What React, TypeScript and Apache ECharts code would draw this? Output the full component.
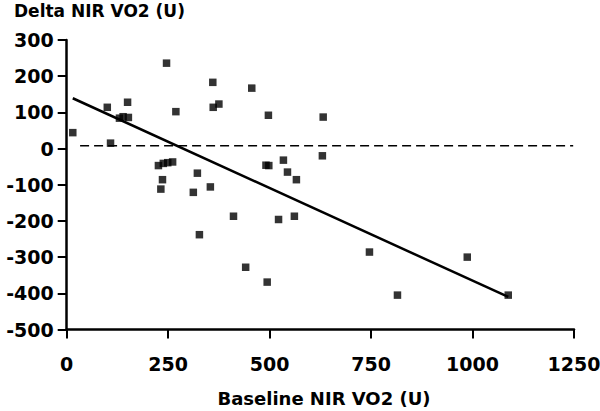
import React, { useEffect, useRef } from "react";
import * as echarts from "echarts";

const baselineX: number[] = [
  15, 100, 108, 130, 139, 150, 152, 246, 269, 360, 361, 375, 456, 497, 632,
  226, 238, 249, 261, 236, 232, 322, 312, 354, 491, 498, 534, 544, 566, 630,
  411, 522, 561, 327, 441, 494, 746, 815, 987, 1088,
];
const deltaY: number[] = [
  44, 114, 15, 84, 88, 128, 86, 236, 102, 183, 114, 123, 167, 92, 87,
  -47, -41, -39, -37, -86, -112, -68, -121, -106, -46, -47, -32, -65, -86, -20,
  -187, -196, -187, -238, -328, -369, -286, -405, -300, -405,
];
const fitX: number[] = [15, 1088];
const fitY: number[] = [139, -410];
const refX: number[] = [33, 1248];
const refY: number[] = [8, 8];
const xTicks = { min: 0, max: 1250, interval: 250 };
const yTicks = { min: -500, max: 300, interval: 100 };
const yTitle = "Delta NIR VO2 (U)";
const xTitle = "Baseline NIR VO2 (U)";

const FONT = "'DejaVu Sans', sans-serif";

export default function App() {
  const ref = useRef<HTMLDivElement>(null);
  useEffect(() => {
    if (!ref.current) return;
    const chart = echarts.init(ref.current, null, { renderer: "svg" });
    const points = baselineX.map((x, i) => [x, deltaY[i]]);
    chart.setOption({
      animation: false,
      backgroundColor: "#ffffff",
      grid: {
        left: 66.7,
        right: 26,
        top: 40,
        bottom: 81.5,
        containLabel: false,
        outerBoundsMode: "none",
      },
      xAxis: {
        type: "value",
        min: xTicks.min,
        max: xTicks.max,
        interval: xTicks.interval,
        splitLine: { show: false },
        axisLine: { show: true, onZero: false, lineStyle: { color: "#000", width: 2.5 } },
        axisTick: { show: true, length: 9, lineStyle: { color: "#000", width: 2 } },
        axisLabel: {
          margin: 25,
          color: "#000",
          fontFamily: FONT,
          fontWeight: "bold",
          fontSize: 19,
          formatter: (v: number) => String(v),
        },
      },
      yAxis: {
        type: "value",
        min: yTicks.min,
        max: yTicks.max,
        interval: yTicks.interval,
        splitLine: { show: false },
        axisLine: { show: true, onZero: false, lineStyle: { color: "#000", width: 2.5 } },
        axisTick: { show: true, length: 9, lineStyle: { color: "#000", width: 2 } },
        axisLabel: {
          margin: 13,
          color: "#000",
          fontFamily: FONT,
          fontWeight: "bold",
          fontSize: 19,
          formatter: (v: number) => String(v),
        },
      },
      graphic: [
        {
          type: "text",
          left: 14,
          top: 2,
          style: {
            text: yTitle,
            fill: "#000",
            font: `bold 17px ${FONT}`,
          },
        },
        {
          type: "text",
          x: 324,
          y: 398,
          style: {
            text: xTitle,
            fill: "#000",
            font: `bold 18px ${FONT}`,
            align: "center",
            verticalAlign: "middle",
          },
        },
      ],
      series: [
        {
          type: "line",
          data: refX.map((x, i) => [x, refY[i]]),
          symbol: "none",
          lineStyle: { color: "#000", width: 1.5, type: [9, 5] },
          silent: true,
          z: 1,
        },
        {
          type: "line",
          data: fitX.map((x, i) => [x, fitY[i]]),
          symbol: "none",
          lineStyle: { color: "#000", width: 2.5 },
          silent: true,
          z: 2,
        },
        {
          type: "scatter",
          data: points,
          symbol: "rect",
          symbolSize: 7.5,
          itemStyle: { color: "#000" },
          z: 3,
        },
      ],
    });
    return () => chart.dispose();
  }, []);
  return (
    <div
      ref={ref}
      style={{ position: "fixed", left: 0, top: 0, width: 600, height: 411 }}
    />
  );
}
